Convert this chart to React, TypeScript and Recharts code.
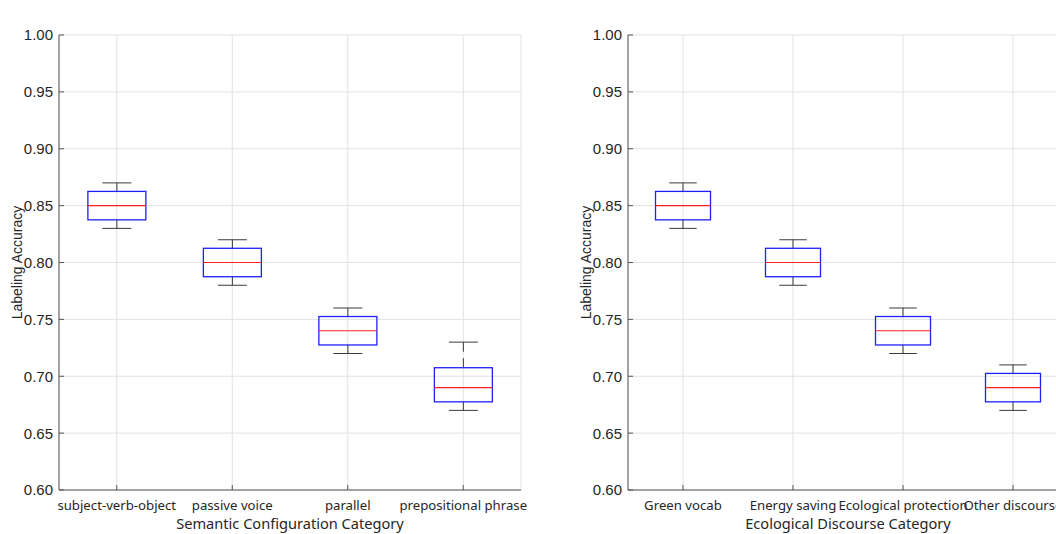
import React from "react";
import { ComposedChart, Bar, XAxis, YAxis, CartesianGrid, Label } from "recharts";

// semantic configuration panel
const semCategories = ["subject-verb-object", "passive voice", "parallel", "prepositional phrase"];
const semMin = [0.83, 0.78, 0.72, 0.67];
const semQ1 = [0.8375, 0.7875, 0.7275, 0.6775];
const semMedian = [0.85, 0.8, 0.74, 0.69];
const semQ3 = [0.8625, 0.8125, 0.7525, 0.7075];
const semMax = [0.87, 0.82, 0.76, 0.73];

// ecological discourse panel
const ecoCategories = ["Green vocab", "Energy saving", "Ecological protection", "Other discourse"];
const ecoMin = [0.83, 0.78, 0.72, 0.67];
const ecoQ1 = [0.8375, 0.7875, 0.7275, 0.6775];
const ecoMedian = [0.85, 0.8, 0.74, 0.69];
const ecoQ3 = [0.8625, 0.8125, 0.7525, 0.7025];
const ecoMax = [0.87, 0.82, 0.76, 0.71];

const yTicks = [0.6, 0.65, 0.7, 0.75, 0.8, 0.85, 0.9, 0.95, 1.0];

type BoxRow = { name: string; min: number; q1: number; median: number; q3: number; max: number };

const buildRows = (names: string[], mins: number[], q1s: number[], meds: number[], q3s: number[], maxs: number[]): BoxRow[] =>
    names.map((name, i) => ({ name, min: mins[i], q1: q1s[i], median: meds[i], q3: q3s[i], max: maxs[i] }));

const semRows = buildRows(semCategories, semMin, semQ1, semMedian, semQ3, semMax);
const ecoRows = buildRows(ecoCategories, ecoMin, ecoQ1, ecoMedian, ecoQ3, ecoMax);

const AXIS = "#555555";
const GRID = "#e2e2e2";
const WHISKER = "#3a3a3a";
const NUM_FONT = "'Liberation Sans', Arial, sans-serif";
const CAT_FONT = "'Noto Sans', sans-serif";

function BoxShape(props: any) {
    const { x, y, width, height, payload } = props;
    const top = Math.min(y, y + height);
    const bottom = Math.max(y, y + height);
    const span = payload.max - payload.min;
    const py = (v: number) => bottom - ((v - payload.min) / span) * (bottom - top);
    const cx = x + width / 2;
    const cap = width / 4;
    const yQ1 = py(payload.q1);
    const yQ3 = py(payload.q3);
    const yMed = py(payload.median);
    return (
        <g>
            <line x1={cx} x2={cx} y1={yQ3} y2={top} stroke={WHISKER} strokeDasharray="9.5 6.5" />
            <line x1={cx} x2={cx} y1={yQ1} y2={bottom} stroke={WHISKER} strokeDasharray="9.5 6.5" />
            <line x1={cx - cap} x2={cx + cap} y1={top} y2={top} stroke={WHISKER} />
            <line x1={cx - cap} x2={cx + cap} y1={bottom} y2={bottom} stroke={WHISKER} />
            <rect x={x} y={yQ3} width={width} height={yQ1 - yQ3} fill="none" stroke="#2020ff" strokeWidth={1.3} />
            <line x1={x} x2={x + width} y1={yMed} y2={yMed} stroke="#ff2020" strokeWidth={1.2} />
        </g>
    );
}

const LeftTick = ({ x, y, payload }: any) => (
    <g>
        <line x1={x} x2={x + 5} y1={y} y2={y} stroke={AXIS} />
        <text x={x - 6} y={y} dy="0.36em" textAnchor="end" fontSize={15} fontFamily={NUM_FONT} fill="#262626">
            {Number(payload.value).toFixed(2)}
        </text>
    </g>
);

const RightTick = ({ x, y }: any) => <line x1={x} x2={x - 5} y1={y} y2={y} stroke={AXIS} />;

const TopTick = ({ x, y }: any) => <line x1={x} x2={x} y1={y} y2={y + 5} stroke={AXIS} />;

const BottomTick = ({ x, y, payload }: any) => (
    <g>
        <line x1={x} x2={x} y1={y} y2={y - 5} stroke={AXIS} />
        <text x={x} y={y + 20} textAnchor="middle" fontSize={13.2} fontFamily={CAT_FONT} fill="#262626">
            {payload.value}
        </text>
    </g>
);

type PanelProps = {
    rows: BoxRow[];
    title: string;
    xLabel: string;
    width: number;
    yAxisWidth: number;
    right: number;
};

const BoxPanel = ({ rows, title, xLabel, width, yAxisWidth, right }: PanelProps) => (
    <ComposedChart
        width={width}
        height={534}
        data={rows}
        margin={{ top: 35, right, bottom: 0, left: 0 }}
        barCategoryGap="25%"
    >
        <CartesianGrid stroke={GRID} />
        <XAxis dataKey="name" type="category" height={44} tickSize={0} tickMargin={0} stroke={AXIS} tick={<BottomTick />} interval={0}>
            <Label
                content={({ viewBox }: any) => (
                    <text x={viewBox.x + viewBox.width / 2} y={viewBox.y + 39} textAnchor="middle" fontSize={14.6} fontFamily={CAT_FONT} fill="#262626">
                        {xLabel}
                    </text>
                )}
            />
        </XAxis>
        <XAxis xAxisId="top" dataKey="name" type="category" orientation="top" height={0} tickSize={0} tickMargin={0} stroke={AXIS} tick={<TopTick />} interval={0}>
            <Label
                content={({ viewBox }: any) => (
                    <text x={viewBox.x + viewBox.width / 2} y={viewBox.y - 7} textAnchor="middle" fontSize={13.8} fontFamily={CAT_FONT} fill="#262626">
                        {title}
                    </text>
                )}
            />
        </XAxis>
        <YAxis
            type="number"
            domain={[0.6, 1]}
            ticks={yTicks}
            width={yAxisWidth}
            tickSize={0}
            tickMargin={0}
            stroke={AXIS}
            tick={<LeftTick />}
            interval={0}
            allowDataOverflow
        >
            <Label
                content={({ viewBox }: any) => {
                    const lx = viewBox.x + viewBox.width - 37.5;
                    const ly = viewBox.y + viewBox.height / 2;
                    return (
                        <text x={lx} y={ly} transform={`rotate(-90 ${lx} ${ly})`} textAnchor="middle" fontSize={14} fontFamily={NUM_FONT} fill="#262626">
                            Labeling Accuracy
                        </text>
                    );
                }}
            />
        </YAxis>
        <YAxis
            yAxisId="r"
            orientation="right"
            type="number"
            domain={[0.6, 1]}
            ticks={yTicks}
            width={0}
            tickSize={0}
            tickMargin={0}
            stroke={AXIS}
            tick={<RightTick />}
            interval={0}
            allowDataOverflow
        />
        <Bar dataKey={(d: BoxRow) => [d.min, d.max]} shape={<BoxShape />} isAnimationActive={false} />
    </ComposedChart>
);

export default function App() {
    return (
        <div style={{ position: "fixed", left: 0, top: 0, width: 1056, height: 534, overflow: "hidden", background: "#fff" }}>
            <div style={{ position: "absolute", left: 0, top: 0 }}>
                <BoxPanel
                    rows={semRows}
                    title="Labeling Accuracy by Semantic Configuration"
                    xLabel="Semantic Configuration Category"
                    width={540}
                    yAxisWidth={59}
                    right={19}
                />
            </div>
            <div style={{ position: "absolute", left: 560, top: 0 }}>
                <BoxPanel
                    rows={ecoRows}
                    title="Labeling Accuracy by Ecological Discourse Category"
                    xLabel="Ecological Discourse Category"
                    width={528}
                    yAxisWidth={68}
                    right={20}
                />
            </div>
        </div>
    );
}
